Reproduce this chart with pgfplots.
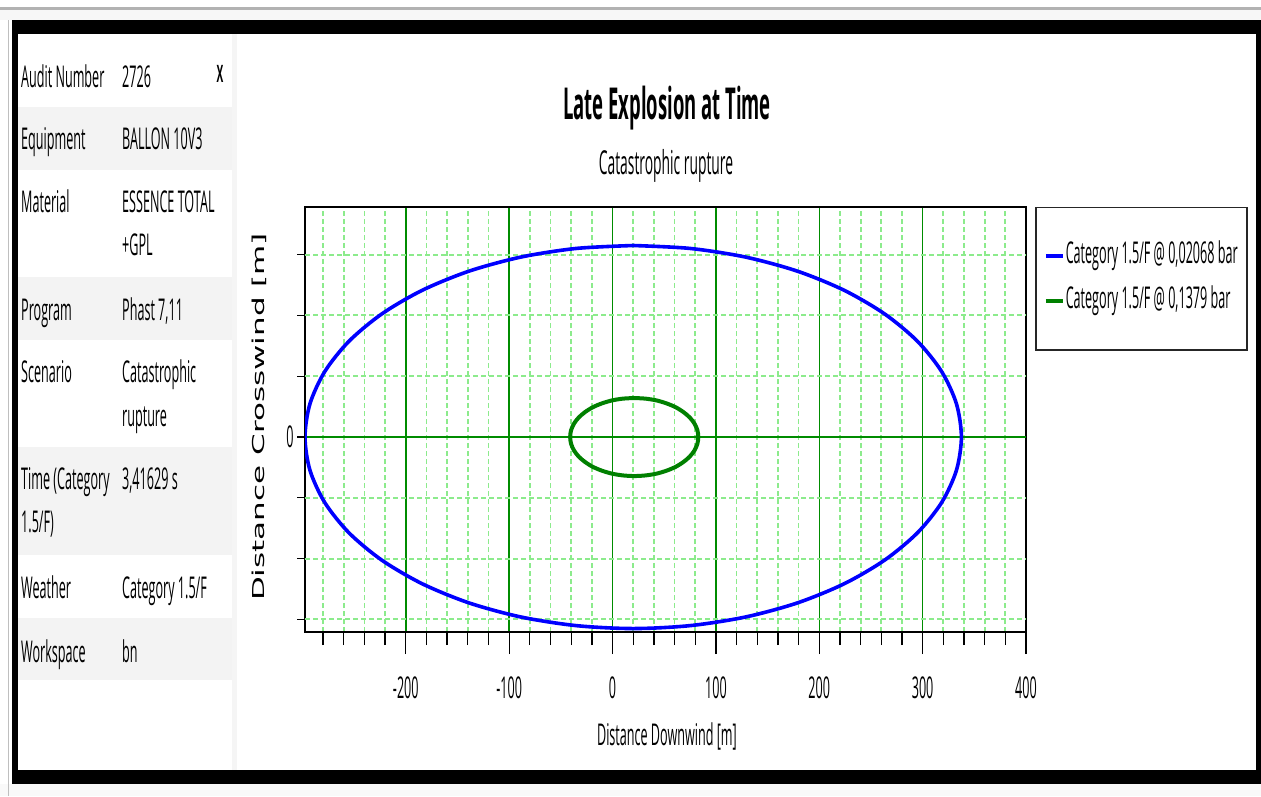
\documentclass[border=0pt]{standalone}
\usepackage{fontspec}
\setmainfont{Open Sans}[FakeStretch=0.42]
\newfontfamily\dejavu{DejaVu Sans}
\usepackage{graphicx}
\usepackage{pgfplots}
\pgfplotsset{compat=1.18}
\definecolor{blueline}{RGB}{0,0,255}
\definecolor{greenline}{RGB}{0,128,0}
\definecolor{gridmajor}{RGB}{0,140,0}
\definecolor{gridminor}{RGB}{140,235,140}
\definecolor{rowgray}{RGB}{243,243,243}
\newcommand\fs{\fontsize{30}{36}\selectfont}
\newcommand\prow[3]{%
  \node[anchor=base west,inner sep=0pt] at (21,#1) {\fs #2};
  \node[anchor=base west,inner sep=0pt] at (122,#1) {\fs #3};}

\begin{document}
\begin{tikzpicture}[x=1pt,y=1pt]
\path[use as bounding box] (0,0) rectangle (1261,796);
\fill[white] (0,0) rectangle (1261,796);
% screenshot frame
\fill[gray!6] (0,776) rectangle (1261,786);
\fill[gray!60] (0,786) rectangle (1261,788.5);
\fill[gray!5] (0,0) rectangle (1261,12);
\draw[gray!50,line width=1pt] (8.5,0) -- (8.5,776);
\fill[black] (12,12) rectangle (1261,776);
\fill[white] (18,26) rectangle (1256,762);
% info panel
\fill[rowgray] (18,626) rectangle (232,689);
\fill[rowgray] (18,456) rectangle (232,519);
\fill[rowgray] (18,241) rectangle (232,349);
\fill[rowgray] (18,116) rectangle (232,178);
\fill[gray!8] (232,26) rectangle (237,762);
\prow{708}{Audit Number}{2726}
\prow{646}{Equipment}{BALLON 10V3}
\prow{583}{Material}{ESSENCE TOTAL}
\prow{540}{}{+GPL}
\prow{475}{Program}{Phast 7,11}
\prow{413}{Scenario}{Catastrophic}
\prow{369}{}{rupture}
\prow{306}{Time (Category}{3,41629 s}
\prow{263}{1.5/F)}{}
\prow{198}{Weather}{Category 1.5/F}
\prow{134}{Workspace}{bn}
\node[anchor=base,inner sep=0pt] at (220,713) {\fontsize{24}{24}\selectfont\bfseries X};
% titles
\node[anchor=base,inner sep=0pt] at (667,676) {\fontsize{44}{44}\selectfont\bfseries Late Explosion at Time};
\node[anchor=base,inner sep=0pt] at (666,621) {\fontsize{33}{33}\selectfont Catastrophic rupture};
\begin{axis}[
  at={(305pt,164pt)}, anchor=south west,
  width=721pt, height=425pt, scale only axis,
  xmin=-297.5, xmax=400, ymin=-192.4, ymax=227,
  xtick={-200,-100,0,100,200,300,400},
  minor xtick={-280,-260,-240,-220,-180,-160,-140,-120,-80,-60,-40,-20,20,40,60,80,120,140,160,180,220,240,260,280,320,340,360,380},
  ytick=\empty,
  extra y ticks={-180,-120,-60,0,60,120,180},
  extra y tick labels={,,,0,,,},
  extra y tick style={major tick length=8pt, grid=major,
     major grid style={gridminor, line width=2pt, dash pattern=on 5pt off 3pt}},
  xtick pos=bottom, ytick pos=left,
  tick align=outside, major tick length=22pt, minor tick length=13pt,
  tick style={black, line width=1.3pt},
  xmajorgrids, xminorgrids,
  major grid style={draw=gridmajor, line width=1.5pt},
  minor grid style={draw=gridminor, line width=1.8pt, dash pattern=on 5pt off 3pt},
  axis line style={black, line width=1.6pt},
  ticklabel style={font=\fs},
  /pgf/number format/assume math mode=true,
  xticklabel style={anchor=base, yshift=-44pt},
  xlabel={Distance Downwind [m]},
  xlabel style={at={(axis description cs:0.502,-0.266)}, anchor=base, font=\fs, inner sep=0pt},
  ylabel={\scalebox{1}[0.53]{\dejavu\fontsize{31}{31}\selectfont Distance Crosswind [m]}},
  ylabel style={at={(axis description cs:-0.0638,0.506)}, anchor=center, inner sep=0pt},
  legend style={at={(1.0125,1)}, anchor=north west, draw=black!85, line width=1.5pt,
     fill=white, inner xsep=8pt, inner ysep=33pt, row sep=14pt, font=\fs,
     nodes={inner sep=1pt, text height=22pt, text depth=7pt}},
  legend cell align=left,
  legend image code/.code={\draw[#1, line width=4pt] (0pt,0pt) -- (17pt,0pt);},
]
\addplot[gridmajor, line width=2.4pt, forget plot] coordinates {(-297.5,0) (400,0)};
\addplot[blueline, line width=3.6pt, smooth] coordinates {
(20,189) (-35.1,186.1) (-88.6,177.6) (-138.8,163.7) (-184.1,144.8) (-223.2,121.5)
(-255.0,94.5) (-278.4,64.6) (-292.7,32.8) (-297.5,0) (-292.7,-32.8) (-278.4,-64.6)
(-255.0,-94.5) (-223.2,-121.5) (-184.1,-144.8) (-138.8,-163.7) (-88.6,-177.6)
(-35.1,-186.1) (20,-189) (75.1,-186.1) (128.6,-177.6) (178.8,-163.7) (224.1,-144.8)
(263.2,-121.5) (295.0,-94.5) (318.4,-64.6) (332.7,-32.8) (337.5,0) (332.7,32.8)
(318.4,64.6) (295.0,94.5) (263.2,121.5) (224.1,144.8) (178.8,163.7) (128.6,177.6)
(75.1,186.1) (20,189)};
\addlegendentry{Category 1.5/F @ 0,02068 bar}
\addplot[greenline, line width=4pt, smooth] coordinates {
(21,38.5) (10.2,37.9) (-0.2,36.2) (-10,33.3) (-18.9,29.5) (-26.5,24.7) (-32.7,19.3)
(-37.3,13.2) (-40.1,6.7) (-41,0) (-40.1,-6.7) (-37.3,-13.2) (-32.7,-19.3) (-26.5,-24.7)
(-18.9,-29.5) (-10,-33.3) (-0.2,-36.2) (10.2,-37.9) (21,-38.5) (31.8,-37.9) (42.2,-36.2)
(52,-33.3) (60.9,-29.5) (68.5,-24.7) (74.7,-19.3) (79.3,-13.2) (82.1,-6.7) (83,0)
(82.1,6.7) (79.3,13.2) (74.7,19.3) (68.5,24.7) (60.9,29.5) (52,33.3) (42.2,36.2)
(31.8,37.9) (21,38.5)};
\addlegendentry{Category 1.5/F @ 0,1379 bar}
\end{axis}
\end{tikzpicture}
\end{document}
